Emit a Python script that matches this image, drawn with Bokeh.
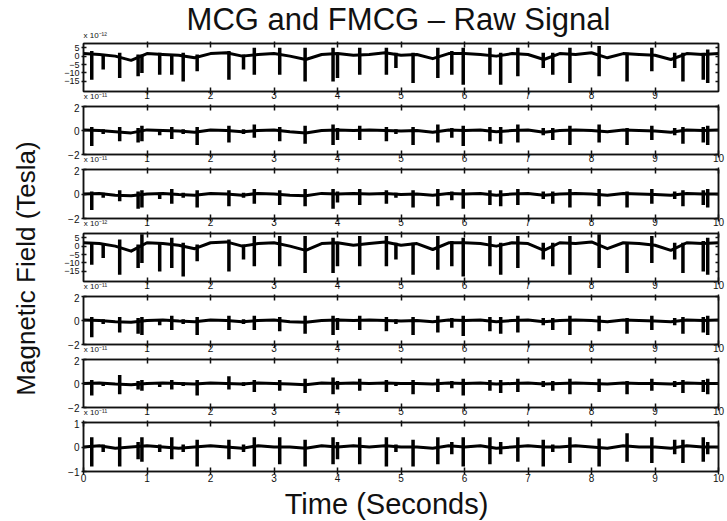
from bokeh.plotting import figure
from bokeh.models import Range1d, LinearAxis, FixedTicker, Label
from bokeh.layouts import row, column
from bokeh.embed import file_html
from bokeh.resources import INLINE

# ---------------- data ----------------
TITLE = "MCG and FMCG \u2013 Raw Signal"
X_LABEL = "Time (Seconds)"
Y_LABEL = "Magnetic Field (Tesla)"

x_ticks_all = [0, 1, 2, 3, 4, 5, 6, 7, 8, 9, 10]
x_ticks_first = [1, 2, 3, 4, 5, 6, 7, 8, 9]
x_ticks_mid = [1, 2, 3, 4, 5, 6, 7, 8, 9, 10]

panel_scale = ["x 10\u207b\u00b9\u00b2", "x 10\u207b\u00b9\u00b9", "x 10\u207b\u00b9\u00b9",
               "x 10\u207b\u00b9\u00b2", "x 10\u207b\u00b9\u00b9", "x 10\u207b\u00b9\u00b9",
               "x 10\u207b\u00b9\u00b9"]
panel_ylim = [(-21, 7.5), (-2, 2), (-2, 2), (-21, 7.5), (-2, 2), (-2, 2), (-1, 1)]
panel_yticks = [[5, 0, -5, -10, -15], [-2, 0, 2], [-2, 0, 2],
                [5, 0, -5, -10, -15], [-2, 0, 2], [-2, 0, 2], [-1, 0, 1]]

# heart-beat spike times (s)
beat_times = [0.13, 0.31, 0.57, 0.86, 0.92, 1.20, 1.39, 1.57, 1.79, 2.29, 2.52, 2.69,
              3.09, 3.49, 3.93, 4.00, 4.35, 4.77, 4.92, 5.19, 5.58, 5.80, 5.98, 6.40,
              6.57, 6.84, 7.24, 7.39, 7.66, 8.12, 8.56, 8.95, 9.31, 9.44, 9.76, 9.83]

# slow baseline sample times (s)
base_times = [0.0, 0.25, 0.5, 0.75, 1.0, 1.25, 1.5, 1.75, 2.0, 2.25, 2.5, 2.75, 3.0, 3.25,
              3.5, 3.75, 4.0, 4.25, 4.5, 4.75, 5.0, 5.25, 5.5, 5.75, 6.0, 6.25, 6.5, 6.75,
              7.0, 7.25, 7.5, 7.75, 8.0, 8.25, 8.5, 8.75, 9.0, 9.25, 9.5, 9.75, 10.0]

ch1_low = [-14, -8, -13, -12, -10, -11, -11, -15, -9, -14, -8, -11, -11, -15, -15, -13, -11, -11,
           -7, -16, -13, -11, -17, -11, -17, -12, -7, -11, -16, -12, -15, -9, -7, -15, -14, -16]
ch1_high = [3, 1, 2, 1, 1, 2, 1, 2, 1, 3, 1, 5, 5, 5, 5, 2, 5, 5, 2, 2, 5, 3, 5, 5, 2, 5, 2, 2,
            5, 6, 2, 5, 2, 2, 2, 4]
ch1_base = [1.5, 1.0, 0.0, -2.5, 1.5, 1.0, 0.5, -1.0, 1.5, 2.0, 0.0, 1.0, 1.5, 0.0, -2.0, 1.0,
            1.5, 0.5, 1.0, 2.0, 0.5, 1.0, -1.5, 1.5, 1.5, 1.0, 0.0, 1.5, 1.0, -2.0, 1.5, 1.0,
            2.0, -1.0, 1.5, 1.0, 0.5, -2.0, 1.5, 1.0, 1.5]

ch2_low = [-1.3, -0.3, -0.9, -1.0, -0.9, -0.4, -0.7, -0.3, -1.2, -1.0, -0.3, -0.6, -0.9, -1.1,
           -1.2, -0.8, -0.8, -0.9, -0.3, -1.2, -1.0, -0.6, -1.3, -0.9, -1.1, -1.0, -0.4, -0.8,
           -1.2, -1.0, -1.2, -0.8, -0.4, -1.1, -1.0, -1.2]
ch2_high = [0.3, 0.1, 0.3, 0.2, 0.4, 0.1, 0.3, 0.1, 0.3, 0.4, 0.1, 0.5, 0.3, 0.4, 0.5, 0.2,
            0.4, 0.3, 0.1, 0.3, 0.5, 0.2, 0.4, 0.3, 0.3, 0.5, 0.2, 0.2, 0.4, 0.5, 0.2, 0.4,
            0.2, 0.3, 0.3, 0.4]
ch2_base = [0.05, 0.0, -0.1, -0.2, 0.05, 0.0, -0.05, -0.15, 0.05, 0.0, -0.1, 0.0, 0.05, -0.1,
            -0.2, 0.0, 0.05, 0.0, 0.05, 0.0, -0.05, 0.0, -0.15, 0.05, 0.0, 0.05, -0.1, 0.0,
            0.05, -0.15, 0.0, 0.05, 0.0, -0.1, 0.05, 0.0, -0.05, -0.15, 0.05, 0.0, 0.05]

ch3_low = [-1.3, -0.3, -0.6, -1.2, -1.1, -0.4, -0.8, -0.3, -1.1, -1.0, -0.3, -0.8, -0.9, -1.0,
           -1.2, -0.7, -0.9, -0.8, -0.3, -1.1, -1.0, -0.5, -1.2, -0.9, -1.0, -0.9, -0.4, -0.8,
           -1.1, -1.0, -1.1, -0.8, -0.4, -1.0, -0.9, -1.1]
ch3_high = [0.2, 0.1, 0.3, 0.2, 0.3, 0.1, 0.4, 0.1, 0.3, 0.3, 0.1, 0.4, 0.3, 0.4, 0.4, 0.2,
            0.4, 0.3, 0.1, 0.3, 0.4, 0.2, 0.4, 0.3, 0.3, 0.4, 0.2, 0.2, 0.4, 0.4, 0.2, 0.4,
            0.2, 0.3, 0.3, 0.4]
ch3_base = [0.0, 0.05, -0.1, -0.15, 0.0, 0.05, -0.05, -0.1, 0.05, 0.0, -0.1, 0.05, 0.0, -0.1,
            -0.15, 0.05, 0.0, 0.05, 0.0, 0.05, -0.05, 0.0, -0.1, 0.05, 0.0, 0.05, -0.1, 0.0,
            0.05, -0.1, 0.0, 0.05, 0.0, -0.1, 0.05, 0.0, -0.05, -0.1, 0.05, 0.0, 0.0]

ch4_low = [-11, -7, -17, -13, -10, -15, -13, -18, -9, -15, -8, -12, -12, -16, -16, -12, -12, -12,
           -8, -17, -14, -12, -18, -12, -17, -13, -8, -12, -17, -13, -16, -10, -8, -16, -15, -17]
ch4_high = [2, 1, 4, 1, 7, 2, 5, 2, 1, 4, 1, 6, 6, 6, 5, 2, 6, 6, 2, 2, 6, 3, 5, 6, 2, 6, 2, 2,
            6, 7, 2, 6, 2, 2, 3, 5]
ch4_base = [2.0, 1.5, 0.0, -3.0, 2.0, 1.5, 0.5, -1.5, 2.0, 2.5, 0.0, 1.5, 2.0, 0.0, -2.5, 1.5,
            2.0, 0.5, 1.5, 2.5, 0.5, 1.5, -2.0, 2.0, 2.0, 1.5, 0.0, 2.0, 1.5, -2.5, 2.0, 1.5,
            2.5, -1.5, 2.0, 1.5, 0.5, -2.5, 2.0, 1.5, 2.0]

ch5_low = [-1.4, -0.3, -1.0, -1.1, -1.2, -0.4, -0.8, -0.3, -1.2, -0.8, -0.3, -0.8, -0.9, -1.1,
           -1.2, -0.8, -0.8, -0.9, -0.3, -1.2, -1.0, -0.6, -1.3, -0.9, -1.1, -1.0, -0.4, -0.8,
           -1.2, -0.9, -1.1, -0.8, -0.4, -1.1, -1.0, -1.2]
ch5_high = [0.3, 0.1, 0.3, 0.2, 0.3, 0.1, 0.4, 0.1, 0.3, 0.4, 0.1, 0.4, 0.3, 0.4, 0.4, 0.2,
            0.4, 0.3, 0.1, 0.3, 0.4, 0.2, 0.4, 0.3, 0.3, 0.4, 0.2, 0.2, 0.4, 0.4, 0.2, 0.4,
            0.2, 0.3, 0.3, 0.4]
ch5_base = [0.05, 0.0, -0.1, -0.15, 0.0, 0.05, -0.05, -0.1, 0.05, 0.0, -0.1, 0.0, 0.05, -0.1,
            -0.15, 0.0, 0.05, 0.0, 0.05, 0.0, -0.05, 0.0, -0.1, 0.05, 0.0, 0.05, -0.1, 0.0,
            0.05, -0.1, 0.0, 0.05, 0.0, -0.1, 0.05, 0.0, -0.05, -0.1, 0.05, 0.0, 0.05]

ch6_low = [-1.0, -0.2, -0.9, -0.5, -0.6, -0.3, -0.5, -0.2, -1.0, -0.5, -0.2, -0.7, -0.6, -0.8,
           -0.9, -0.5, -0.6, -0.7, -0.2, -0.9, -0.7, -0.4, -1.0, -0.6, -0.8, -0.7, -0.3, -0.6,
           -0.9, -0.7, -0.9, -0.6, -0.3, -0.8, -0.7, -0.9]
ch6_high = [0.3, 0.1, 0.7, 0.2, 0.3, 0.1, 0.3, 0.1, 0.3, 0.6, 0.1, 0.3, 0.3, 0.4, 0.5, 0.2,
            0.4, 0.3, 0.1, 0.3, 0.4, 0.2, 0.4, 0.3, 0.3, 0.4, 0.2, 0.2, 0.4, 0.4, 0.2, 0.4,
            0.2, 0.3, 0.3, 0.4]
ch6_base = [0.0, 0.05, -0.05, -0.1, 0.0, 0.05, 0.0, -0.05, 0.05, 0.0, -0.05, 0.05, 0.0, -0.05,
            -0.1, 0.05, 0.0, 0.05, 0.0, 0.05, 0.0, 0.0, -0.05, 0.05, 0.0, 0.05, -0.05, 0.0,
            0.05, -0.05, 0.0, 0.05, 0.0, -0.05, 0.05, 0.0, 0.0, -0.05, 0.05, 0.0, 0.0]

ch7_low = [-0.8, -0.2, -0.8, -0.5, -0.6, -0.2, -0.5, -0.2, -0.8, -0.5, -0.2, -0.8, -0.7, -0.8,
           -0.7, -0.5, -0.7, -0.8, -0.2, -0.8, -0.7, -0.3, -0.8, -0.7, -0.3, -0.6, -0.8, -0.2,
           -0.65, -0.8, -0.6, -0.65, -0.3, -0.65, -0.6, -0.3]
ch7_high = [0.4, 0.1, 0.4, 0.2, 0.4, 0.1, 0.4, 0.1, 0.3, 0.3, 0.1, 0.4, 0.4, 0.3, 0.4, 0.2,
            0.4, 0.4, 0.1, 0.3, 0.4, 0.2, 0.4, 0.4, 0.2, 0.4, 0.3, 0.1, 0.4, 0.35, 0.56, 0.4,
            0.3, 0.3, 0.4, 0.2]
ch7_base = [0.0, 0.05, -0.05, 0.0, 0.05, 0.0, -0.05, 0.0, 0.05, 0.0, -0.05, 0.05, 0.0, 0.0,
            -0.05, 0.05, 0.0, 0.05, 0.0, 0.05, 0.0, 0.0, -0.05, 0.05, 0.0, 0.05, -0.05, 0.0,
            0.05, 0.0, 0.0, 0.05, 0.0, -0.05, 0.05, 0.0, 0.0, -0.05, 0.05, 0.0, 0.0]

panel_low = [ch1_low, ch2_low, ch3_low, ch4_low, ch5_low, ch6_low, ch7_low]
panel_high = [ch1_high, ch2_high, ch3_high, ch4_high, ch5_high, ch6_high, ch7_high]
panel_base = [ch1_base, ch2_base, ch3_base, ch4_base, ch5_base, ch6_base, ch7_base]

# ---------------- style / layout ----------------
FONT = "Liberation Sans"
INK = "#111111"
FRAME_W = 635
FRAME_H = 49
LEFT_W = 45
BORDER_L = 38
BORDER_R = 8
COL_W = BORDER_L + FRAME_W + BORDER_R
HEADER_H = 40
FOOTER_H = 35
PANEL_BOTTOM = [11, 11, 12, 11, 11, 11, 14]
N = len(panel_low)
EM = "\u2003"


def hide_grids(p):
    p.xgrid.visible = False
    p.ygrid.visible = False


def make_panel(k):
    first = k == 0
    last = k == N - 1
    top = 3
    bottom = PANEL_BOTTOM[k]
    p = figure(width=COL_W, height=top + FRAME_H + bottom,
               x_range=Range1d(0, 10), y_range=Range1d(*panel_ylim[k]),
               output_backend="svg", toolbar_location=None, frame_align=False,
               x_axis_location=None, y_axis_location=None,
               min_border_left=BORDER_L, min_border_right=BORDER_R,
               min_border_top=top, min_border_bottom=bottom,
               outline_line_color=INK, outline_line_width=1.5,
               background_fill_color="white", border_fill_color="white")
    hide_grids(p)

    ticks = x_ticks_all if last else (x_ticks_first if first else x_ticks_mid)
    common = dict(axis_line_color=INK, axis_line_width=1.5, major_tick_line_color=INK,
                  major_tick_line_width=1.5, minor_tick_line_color=None)
    # bottom axis; its axis label carries the next panel's multiplier
    if last:
        xb = LinearAxis(ticker=FixedTicker(ticks=ticks), major_tick_in=4, major_tick_out=3,
                        major_label_standoff=-1, major_label_text_font=FONT,
                        major_label_text_font_size="10px", major_label_text_color=INK, **common)
    else:
        xb = LinearAxis(ticker=FixedTicker(ticks=ticks), major_tick_in=4, major_tick_out=3,
                        major_label_standoff=-4, major_label_text_font=FONT,
                        major_label_text_font_size="10px", major_label_text_color=INK,
                        axis_label=EM * 3 + panel_scale[k + 1], axis_label_align="start",
                        axis_label_standoff=-10, axis_label_text_font=FONT,
                        axis_label_text_font_size="8px", axis_label_text_font_style="normal",
                        axis_label_text_color=INK, **common)
    p.add_layout(xb, "below")
    # top axis (ticks only)
    xt = LinearAxis(ticker=FixedTicker(ticks=ticks), major_label_text_font_size="1px",
                    major_label_text_alpha=0, major_label_standoff=0,
                    major_tick_in=4, major_tick_out=2, **common)
    p.add_layout(xt, "above")
    # left axis
    yl = LinearAxis(ticker=FixedTicker(ticks=panel_yticks[k]),
                    major_tick_in=3, major_tick_out=2, major_label_standoff=2,
                    major_label_text_font=FONT,
                    major_label_text_font_size=("9px" if panel_ylim[k][0] < -5 else "10px"),
                    major_label_text_color=INK, **common)
    p.add_layout(yl, "left")
    # right axis (ticks only)
    yr = LinearAxis(ticker=FixedTicker(ticks=panel_yticks[k]), major_label_text_font_size="1px",
                    major_label_text_alpha=0, major_label_standoff=0,
                    major_tick_in=3, major_tick_out=0, **common)
    p.add_layout(yr, "right")

    # signal
    p.line(base_times, panel_base[k], line_color="black", line_width=3, line_join="round")
    p.segment(x0=beat_times, y0=panel_low[k], x1=beat_times, y1=panel_high[k],
              line_color="black", line_width=3.5)
    return p


def blank(width, height):
    b = figure(width=width, height=height, x_range=Range1d(0, 1), y_range=Range1d(0, 1),
               output_backend="svg", toolbar_location=None, frame_align=False,
               x_axis_location=None, y_axis_location=None, min_border=0,
               outline_line_color=None, background_fill_color="white",
               border_fill_color="white")
    hide_grids(b)
    return b


header = blank(COL_W, HEADER_H)
header.add_layout(Label(x=398 - LEFT_W, y=4, x_units="screen", y_units="screen",
                        text=TITLE, text_font=FONT, text_font_size="31px", text_color=INK,
                        text_align="center", text_baseline="bottom"))
header.add_layout(Label(x=BORDER_L, y=1, x_units="screen", y_units="screen",
                        text=panel_scale[0], text_font=FONT, text_font_size="8px",
                        text_color=INK, text_align="left", text_baseline="bottom"))

panels = [make_panel(k) for k in range(N)]

footer = blank(COL_W, FOOTER_H)
footer.add_layout(Label(x=386 - LEFT_W, y=1, x_units="screen", y_units="screen",
                        text=X_LABEL, text_font=FONT, text_font_size="29px", text_color=INK,
                        text_align="center", text_baseline="bottom"))

total_h = HEADER_H + sum(p.height for p in panels) + FOOTER_H

lp = blank(LEFT_W, total_h)
lp.add_layout(Label(x=25, y=total_h - 268, x_units="screen", y_units="screen",
                    text=Y_LABEL, angle=90, angle_units="deg", text_font=FONT,
                    text_font_size="26px", text_color=INK, text_align="center",
                    text_baseline="middle"))

layout = row(lp, column(header, *panels, footer, spacing=0), spacing=0)

open("out.html", "w").write(file_html(layout, INLINE))
